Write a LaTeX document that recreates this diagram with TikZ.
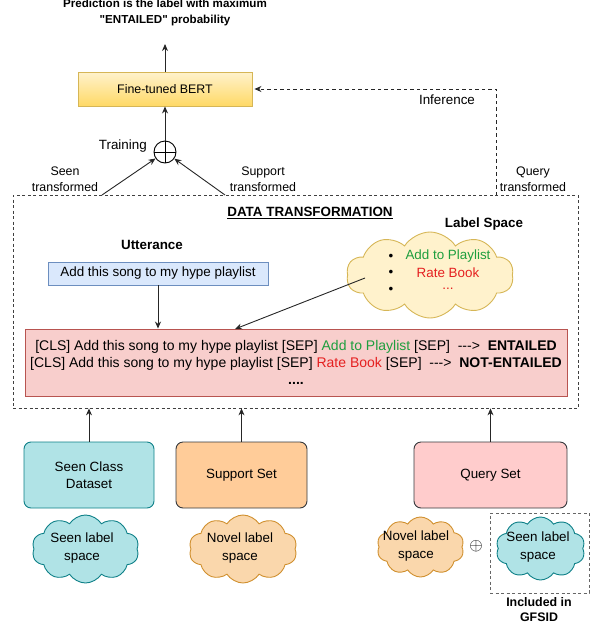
\documentclass[tikz,border=0pt]{standalone}
\usepackage{fontspec}
\newfontfamily\helv{Liberation Sans}
\usetikzlibrary{shapes.symbols,arrows.meta}
\definecolor{yelF}{HTML}{FFF2CC}
\definecolor{yelD}{HTML}{FFD966}
\definecolor{yelS}{HTML}{D6B656}
\definecolor{blueF}{HTML}{DAE8FC}
\definecolor{blueS}{HTML}{6C8EBF}
\definecolor{redF}{HTML}{F8CECC}
\definecolor{redS}{HTML}{B85450}
\definecolor{tealF}{HTML}{B0E3E6}
\definecolor{tealS}{HTML}{0E8088}
\definecolor{orF}{HTML}{FFCC99}
\definecolor{pinkF}{HTML}{FFCCCC}
\definecolor{darkS}{HTML}{36393D}
\definecolor{peachF}{HTML}{FAD7AC}
\definecolor{peachS}{HTML}{D0902F}
\definecolor{greenT}{HTML}{1E9E3E}
\definecolor{redT}{HTML}{E52020}
\begin{document}
\begin{tikzpicture}[x=1pt,y=-1pt,
  font=\helv\fontsize{13.4}{17}\selectfont,
  arr/.style={-{Stealth[length=7pt,width=6pt]}, line width=0.9pt, draw=black!85},
  dasharr/.style={arr, dash pattern=on 3.5pt off 3pt},
  small/.style={font=\helv\fontsize{12.4}{16}\selectfont, align=center},
  boldlbl/.style={font=\helv\bfseries\fontsize{13.4}{16}\selectfont},
  setbox/.style={draw=darkS, rounded corners=7pt, line width=0.9pt, align=center, inner sep=0pt, minimum height=66pt},
  cloudnode/.style={cloud, cloud puffs=10, cloud puff arc=115, cloud ignores aspect, line width=0.9pt, inner sep=0pt},
  ctext/.style={align=center, inner sep=0pt, font=\helv\fontsize{13.4}{18}\selectfont}
]
\useasboundingbox (0,0) rectangle (596,630);

% title and BERT
\node[font=\helv\bfseries\fontsize{11.6}{16}\selectfont, align=center] (title) at (165,12.5) {Prediction is the label with maximum\\"ENTAILED" probability};
\coordinate (ptip) at (165,44);
\node[draw=yelS, top color=yelF, bottom color=yelD, line width=0.9pt, minimum width=174pt, minimum height=34pt, inner sep=0pt, font=\helv\fontsize{12.4}{15}\selectfont] (bert) at (165,89) {Fine-tuned BERT};
\draw[arr] (bert.north) -- (ptip);

% combining circle
\node[circle, draw, line width=0.9pt, minimum size=22pt, inner sep=0pt] (plus) at (165,152) {};
\draw[line width=0.9pt] (plus.north) -- (plus.south) (plus.west) -- (plus.east);
\draw[arr] (plus) -- (bert);
\node[anchor=east, inner sep=0pt] (train) at (147,146) {Training};

% transformed labels
\node[small] (seenT) at (65,179) {Seen\\transformed};
\node[small] (suppT) at (263,179) {Support\\transformed};
\node[small] (queryT) at (533,179) {Query\\transformed};

% data transformation box
\node[draw=black!75, line width=0.8pt, dash pattern=on 3pt off 2.5pt, minimum width=565pt, minimum height=213pt, inner sep=0pt] (dt) at (295.5,301.5) {};
\coordinate (sA) at (102,195);
\coordinate (sB) at (225,195);
\coordinate (qx) at (496,195);
\draw[arr] (sA) -- (plus);
\draw[arr] (sB) -- (plus);
\draw[dasharr, shorten >=2pt] (qx) |- (bert.east);
\node (inf) at (447,100) {Inference};

\node[boldlbl] (dtt) at (310,213) {\underline{DATA TRANSFORMATION}};
\node[boldlbl] (lst) at (484,224) {Label Space};
\node[boldlbl] (uttt) at (152,245) {Utterance};

\node[draw=blueS, fill=blueF, line width=0.9pt, minimum width=220pt, minimum height=23pt, inner sep=0pt] (utt) at (158,273.5) {Add this song to my hype playlist};

\node[cloudnode, draw=yelS, fill=yelF, minimum width=167pt, minimum height=86pt] (ls) at (430,275) {};
\node[inner sep=0pt] (b1) at (391,257) {•};
\node[inner sep=0pt] (b2) at (391,273) {•};
\node[inner sep=0pt] (b3) at (391,290) {•};
\node[text=greenT, inner sep=0pt] (l1) at (448,256) {Add to Playlist};
\node[text=redT, inner sep=0pt] (l2) at (448,273) {Rate Book};
\node[text=redT, inner sep=0pt] (l3) at (448,289) {...};

\node[draw=redS, fill=redF, line width=0.9pt, minimum width=542pt, minimum height=67pt, inner sep=0pt, align=center, font=\helv\fontsize{14}{17}\selectfont] (tr) at (296,362.5)
{{[CLS]} Add this song to my hype playlist {[SEP]} \textcolor{greenT}{Add to Playlist} {[SEP]}\ \ -\kern0pt-\kern0pt->\ \ \textbf{ENTAILED}\\
{[CLS]} Add this song to my hype playlist {[SEP]} \textcolor{redT}{Rate Book} {[SEP]}\ \ -\kern0pt-\kern0pt->\ \ \textbf{NOT-ENTAILED}\\
\textbf{....}};

\coordinate (lsA) at (365,278);
\coordinate (trA) at (235,329);
\draw[arr] (utt.south) -- (utt.south |- tr.north);
\draw[arr] (lsA) -- (trA);

% bottom sets
\node[setbox, fill=tealF, draw=tealS, minimum width=130pt] (seen) at (89,475) {Seen Class\\Dataset};
\node[setbox, fill=orF, minimum width=131pt] (supp) at (241.5,475) {Support Set};
\node[setbox, fill=pinkF, minimum width=153pt] (query) at (490.5,475) {Query Set};
\draw[arr] (seen.north) -- (seen.north |- dt.south);
\draw[arr] (supp.north) -- (supp.north |- dt.south);
\draw[arr] (query.north) -- (query.north |- dt.south);

% clouds
\node[cloudnode, fill=tealF, draw=tealS, minimum width=107pt, minimum height=68pt] (c1) at (85.5,549) {};
\node[ctext] (c1t) at (82,548) {Seen label\\space};
\node[cloudnode, fill=peachF, draw=peachS, minimum width=108pt, minimum height=68pt] (c2) at (243,549) {};
\node[ctext] (c2t) at (240,548) {Novel label\\space};
\node[cloudnode, fill=peachF, draw=peachS, minimum width=87pt, minimum height=60pt] (c3) at (420.5,547) {};
\node[ctext] (c3t) at (416,546.5) {Novel label\\space};
\node[font=\fontsize{16}{16}\selectfont, inner sep=0pt] (op) at (476,546) {$\oplus$};
\node[draw=black!60, line width=0.8pt, dash pattern=on 3pt off 2.5pt, minimum width=99pt, minimum height=80pt, inner sep=0pt] (gf) at (539.5,553) {};
\node[cloudnode, fill=tealF, draw=tealS, minimum width=89pt, minimum height=63pt] (c4) at (540.5,548.5) {};
\node[ctext] (c4t) at (538,547) {Seen label\\space};
\node[font=\helv\bfseries\fontsize{12.4}{15}\selectfont, align=center] (inc) at (539,609.5) {Included in\\GFSID};
\end{tikzpicture}
\end{document}
